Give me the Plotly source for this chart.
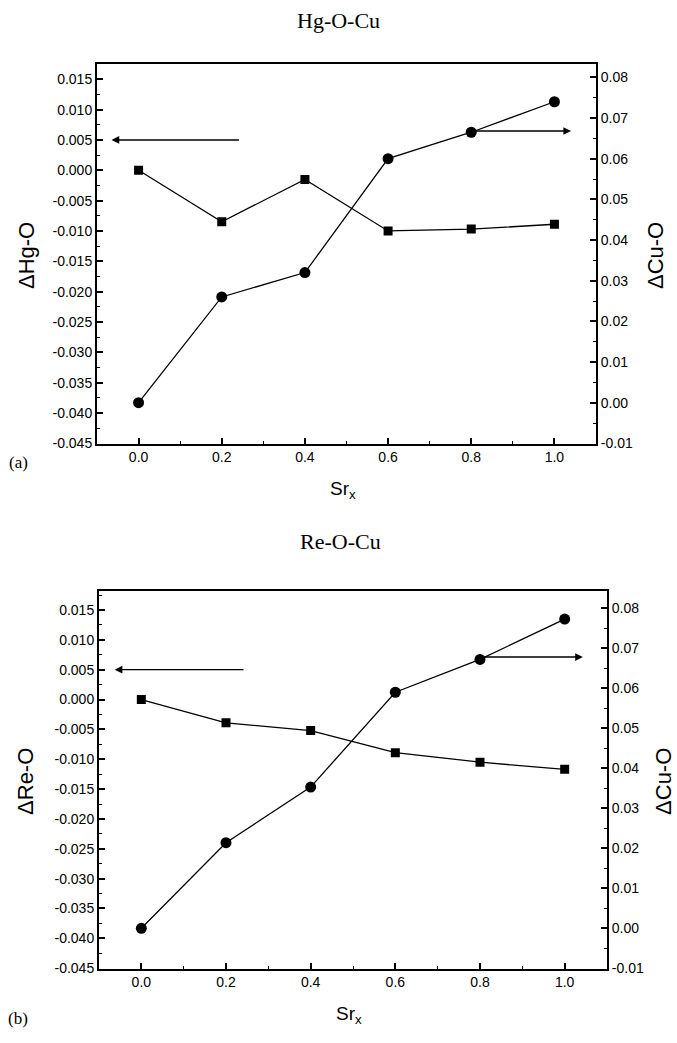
import plotly.graph_objects as go

# ---------------- data ----------------
sr_x = [0.0, 0.2, 0.4, 0.6, 0.8, 1.0]

# panel (a) Hg-O-Cu
d_hg_o = [0.000, -0.0085, -0.0015, -0.0100, -0.0097, -0.0089]   # squares, left axis
d_cu_o_a = [0.000, 0.026, 0.032, 0.060, 0.0665, 0.074]          # circles, right axis

# panel (b) Re-O-Cu
d_re_o = [0.000, -0.0039, -0.0052, -0.0089, -0.0105, -0.0117]   # squares, left axis
d_cu_o_b = [0.000, 0.0214, 0.0353, 0.0590, 0.0672, 0.0773]     # circles, right axis

x_tickvals = [0.0, 0.2, 0.4, 0.6, 0.8, 1.0]
x_ticktext = ["0.0", "0.2", "0.4", "0.6", "0.8", "1.0"]
left_tickvals = [0.015, 0.010, 0.005, 0.000, -0.005, -0.010, -0.015, -0.020,
                 -0.025, -0.030, -0.035, -0.040, -0.045]
left_ticktext = ["0.015", "0.010", "0.005", "0.000", "-0.005", "-0.010", "-0.015",
                 "-0.020", "-0.025", "-0.030", "-0.035", "-0.040", "-0.045"]
right_tickvals = [0.08, 0.07, 0.06, 0.05, 0.04, 0.03, 0.02, 0.01, 0.00, -0.01]
right_ticktext = ["0.08", "0.07", "0.06", "0.05", "0.04", "0.03", "0.02", "0.01",
                  "0.00", "-0.01"]

W, H = 677, 1043
TICKFONT = dict(family="Liberation Sans, Arial", size=14, color="black")
SERIF = "Liberation Serif, Times New Roman"
SANS = "Liberation Sans, Arial"


def px_x(p):
    return p / W


def px_y(p):
    return 1 - p / H


fig = go.Figure()

line_style = dict(color="black", width=1.3)

# panel (a)
fig.add_trace(go.Scatter(x=sr_x, y=d_hg_o, mode="lines+markers", line=line_style,
                         marker=dict(symbol="square", size=9, color="black"),
                         xaxis="x", yaxis="y", showlegend=False))
fig.add_trace(go.Scatter(x=sr_x, y=d_cu_o_a, mode="lines+markers", line=line_style,
                         marker=dict(symbol="circle", size=11, color="black"),
                         xaxis="x", yaxis="y2", showlegend=False))
# panel (b)
fig.add_trace(go.Scatter(x=sr_x, y=d_re_o, mode="lines+markers", line=line_style,
                         marker=dict(symbol="square", size=9, color="black"),
                         xaxis="x2", yaxis="y3", showlegend=False))
fig.add_trace(go.Scatter(x=sr_x, y=d_cu_o_b, mode="lines+markers", line=line_style,
                         marker=dict(symbol="circle", size=11, color="black"),
                         xaxis="x2", yaxis="y4", showlegend=False))


def xaxis_cfg(domain, anchor):
    return dict(domain=domain, anchor=anchor, range=[-0.1, 1.1],
                tickmode="array", tickvals=x_tickvals, ticktext=x_ticktext,
                ticks="inside", ticklen=6, tickwidth=1.5, tickcolor="black",
                minor=dict(tickmode="linear", tick0=0.1, dtick=0.2, ticks="inside",
                           ticklen=3, tickwidth=1.2, tickcolor="black"),
                showline=True, linewidth=2, linecolor="black", mirror=True,
                showgrid=False, zeroline=False, tickfont=TICKFONT)


def yleft_cfg(domain, anchor, rng):
    return dict(domain=domain, anchor=anchor, range=rng,
                tickmode="array", tickvals=left_tickvals, ticktext=left_ticktext,
                ticks="inside", ticklen=6, tickwidth=1.5, tickcolor="black",
                minor=dict(tickmode="linear", tick0=0, dtick=0.0025, ticks="inside",
                           ticklen=3, tickwidth=1.2, tickcolor="black"),
                showline=True, linewidth=2, linecolor="black",
                showgrid=False, zeroline=False, tickfont=TICKFONT)


def yright_cfg(overlay, anchor, rng):
    return dict(overlaying=overlay, anchor=anchor, side="right", range=rng,
                tickmode="array", tickvals=right_tickvals, ticktext=right_ticktext,
                ticks="inside", ticklen=6, tickwidth=1.5, tickcolor="black",
                minor=dict(tickmode="linear", tick0=0, dtick=0.005, ticks="inside",
                           ticklen=3, tickwidth=1.2, tickcolor="black"),
                showline=True, linewidth=2, linecolor="black",
                showgrid=False, zeroline=False, tickfont=TICKFONT)


a_x = [px_x(97), px_x(596)]
a_y = [px_y(447), px_y(64)]
b_x = [px_x(99), px_x(607)]
b_y = [px_y(976), px_y(596)]

fig.update_layout(
    width=W, height=H, margin=dict(l=0, r=0, t=0, b=0),
    paper_bgcolor="white", plot_bgcolor="white",
    xaxis=xaxis_cfg(a_x, "y"),
    yaxis=yleft_cfg(a_y, "x", [-0.04505, 0.0176]),
    yaxis2=yright_cfg("y", "x", [-0.01005, 0.0834]),
    xaxis2=xaxis_cfg(b_x, "y3"),
    yaxis3=yleft_cfg(b_y, "x2", [-0.04505, 0.0181]),
    yaxis4=yright_cfg("y3", "x2", [-0.01005, 0.0842]),
)

annotations = []

# arrows
arrow_style = dict(showarrow=True, arrowhead=2, arrowsize=1.1, arrowwidth=1.4,
                   arrowcolor="black", text="")
annotations.append(dict(x=-0.065, y=0.005, xref="x", yref="y",
                        ax=0.245, ay=0.005, axref="x", ayref="y", **arrow_style))
annotations.append(dict(x=1.04, y=0.0668, xref="x", yref="y2",
                        ax=0.8, ay=0.0668, axref="x", ayref="y2", **arrow_style))
annotations.append(dict(x=-0.063, y=0.005, xref="x2", yref="y3",
                        ax=0.245, ay=0.005, axref="x2", ayref="y3", **arrow_style))
annotations.append(dict(x=1.043, y=0.0678, xref="x2", yref="y4",
                        ax=0.8, ay=0.0678, axref="x2", ayref="y4", **arrow_style))


def text_ann(text, x, y, size, family, angle=0):
    return dict(text=text, x=px_x(x), y=px_y(y), xref="paper", yref="paper",
                showarrow=False, xanchor="center", yanchor="middle",
                textangle=angle, font=dict(family=family, size=size, color="black"))


annotations += [
    text_ann("Hg-O-Cu", 338, 21, 22, SERIF),
    text_ann("Re-O-Cu", 340, 546, 22, SERIF),
    text_ann("(a)", 18, 466, 17, SERIF),
    text_ann("(b)", 18, 1026, 17, SERIF),
    text_ann("Sr<sub>x</sub>", 343, 494, 19, SANS),
    text_ann("Sr<sub>x</sub>", 349, 1023, 19, SANS),
    text_ann("ΔHg-O", 26, 258, 22, SANS, -90),
    text_ann("ΔCu-O", 655, 258, 22, SANS, -90),
    text_ann("ΔRe-O", 26, 788, 22, SANS, -90),
    text_ann("ΔCu-O", 664, 788, 22, SANS, -90),
]

fig.update_layout(annotations=annotations)

fig.write_html("out.html")
